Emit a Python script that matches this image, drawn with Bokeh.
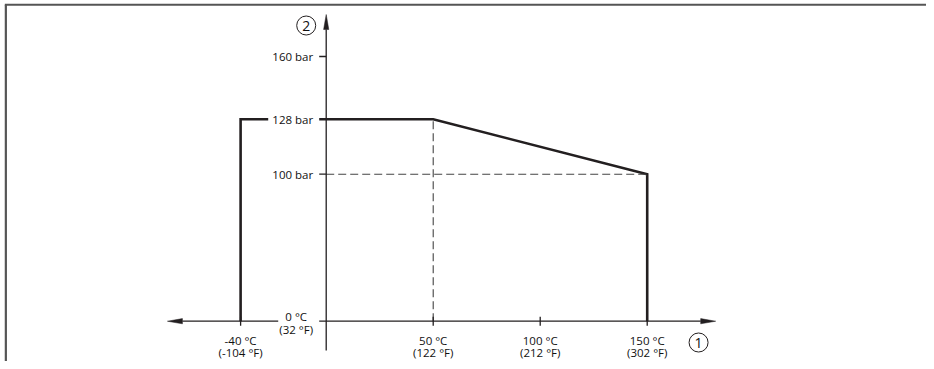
import numpy as np
from bokeh.plotting import figure
from bokeh.models import Range1d
from bokeh.embed import file_html
from bokeh.resources import INLINE
from bokeh.core.properties import value

# ---------------- data ----------------
temps_c = [-40, -40, 50, 150, 150]
pressure_bar = [0, 128, 128, 100, 0]

x_ticks_c = [-40, 50, 100, 150]
x_tick_labels_c = ["-40 °C", "50 °C", "100 °C", "150 °C"]
x_tick_labels_f = ["(-104 °F)", "(122 °F)", "(212 °F)", "(302 °F)"]

y_ticks_bar = [100, 128, 160]
y_tick_labels = ["100 bar", "128 bar", "160 bar"]

origin_labels = ["0 °C", "(32 °F)"]
axis_markers = ["1", "2"]   # circled axis numbers: 1 = temperature, 2 = pressure

# ---------------- layout ----------------
W, H = 926, 361
X_START, X_END = -152.2, 280.51
Y_START, Y_END = 4.53, 188.55
SX = W / (X_END - X_START)      # px per °C
SY = H / (Y_END - Y_START)      # px per bar
BASE = 25.07                    # broken pressure axis: 0 bar is drawn at this level
Y_AXIS_BOTTOM = 10.13
Y_ARROW_TIP = 181.4
X_ARROW_LEFT = -74.2
X_ARROW_RIGHT = 182.0
FRAME_TOP = 186.4
FRAME_LEFT = -149.7
HEAD_LEN, HEAD_HW = 15.0, 2.6   # px

INK = "#231f20"
TXT = "#111111"
FONT = value("Open Sans")
FS = "11.5px"

p = figure(width=W, height=H, x_range=Range1d(X_START, X_END), y_range=Range1d(Y_START, Y_END),
           x_axis_type=None, y_axis_type=None, output_backend="svg", toolbar_location=None,
           min_border=0, outline_line_color=None, background_fill_color="white",
           border_fill_color="white")
p.grid.visible = False

# outer frame (top and left edges)
p.segment(x0=[FRAME_LEFT - 1 / SX], y0=[FRAME_TOP], x1=[X_END], y1=[FRAME_TOP],
          line_color="#555555", line_width=2)
p.segment(x0=[FRAME_LEFT], y0=[FRAME_TOP], x1=[FRAME_LEFT], y1=[Y_START],
          line_color="#555555", line_width=2.2)

# pressure curve (values below the axis break are drawn at the axis)
curve_y = np.maximum(np.array(pressure_bar, dtype=float), BASE)
p.line(temps_c, curve_y, line_width=2.6, line_color=INK, line_join="miter")

# dashed reference lines at the knee and at the end point
knee_t, knee_p = temps_c[2], pressure_bar[2]
end_t, end_p = temps_c[3], pressure_bar[3]
p.line([knee_t, knee_t], [BASE, knee_p], line_dash="8 4", line_color="#444444", line_width=1.1)
p.line([0, end_t], [end_p, end_p], line_dash="8 4", line_color="#444444", line_width=1.1)

# axes
p.segment(x0=[0], y0=[Y_AXIS_BOTTOM], x1=[0], y1=[Y_ARROW_TIP - HEAD_LEN / SY], line_color=INK, line_width=1.3)
p.segment(x0=[X_ARROW_LEFT + HEAD_LEN / SX], y0=[BASE], x1=[X_ARROW_RIGHT - HEAD_LEN / SX], y1=[BASE],
          line_color=INK, line_width=1.3)
heads_x = [
    [0, -HEAD_HW / SX, HEAD_HW / SX],
    [X_ARROW_LEFT, X_ARROW_LEFT + HEAD_LEN / SX, X_ARROW_LEFT + HEAD_LEN / SX],
    [X_ARROW_RIGHT, X_ARROW_RIGHT - HEAD_LEN / SX, X_ARROW_RIGHT - HEAD_LEN / SX],
]
heads_y = [
    [Y_ARROW_TIP, Y_ARROW_TIP - HEAD_LEN / SY, Y_ARROW_TIP - HEAD_LEN / SY],
    [BASE, BASE + HEAD_HW / SY, BASE - HEAD_HW / SY],
    [BASE, BASE + HEAD_HW / SY, BASE - HEAD_HW / SY],
]
p.patches(heads_x, heads_y, fill_color=INK, line_color=INK, line_width=0.5)

# ticks
p.segment(x0=[-7 / SX] * len(y_ticks_bar), y0=y_ticks_bar, x1=[0] * len(y_ticks_bar), y1=y_ticks_bar,
          line_color=INK, line_width=1.3)
p.segment(x0=x_ticks_c, y0=[BASE - 4.5 / SY] * len(x_ticks_c), x1=x_ticks_c, y1=[BASE + 4.5 / SY] * len(x_ticks_c),
          line_color=INK, line_width=1.3)

# white gaps behind labels that sit on lines
p.rect(x=[-32.5 / SX], y=[knee_p], width=51, height=9, width_units="screen", height_units="screen",
       fill_color="white", line_color=None)
p.rect(x=[-27.5 / SX], y=[BASE], width=41, height=7, width_units="screen", height_units="screen",
       fill_color="white", line_color=None)

# tick labels
p.text(x=[0] * len(y_ticks_bar), y=y_ticks_bar, text=y_tick_labels, x_offset=-13, text_align="right",
       text_baseline="middle", text_font=FONT, text_font_size=FS, text_color=TXT)
p.text(x=x_ticks_c, y=[BASE] * len(x_ticks_c), text=x_tick_labels_c, y_offset=19.5, text_align="center",
       text_baseline="middle", text_font=FONT, text_font_size=FS, text_color=TXT)
p.text(x=x_ticks_c, y=[BASE] * len(x_ticks_c), text=x_tick_labels_f, y_offset=31.5, text_align="center",
       text_baseline="middle", text_font=FONT, text_font_size=FS, text_color=TXT)
p.text(x=[0, 0], y=[BASE, BASE], text=origin_labels, x_offset=-30, y_offset=[-5, 8], text_align="center",
       text_baseline="middle", text_font=FONT, text_font_size=FS, text_color=TXT)

# circled axis markers
mark_x = [174.0, -20 / SX]
mark_y = [BASE - 21.3 / SY, 175.8]
p.scatter(x=mark_x, y=mark_y, marker="circle", size=19, fill_color=None, line_color=INK, line_width=1)
p.text(x=mark_x, y=mark_y, text=axis_markers, text_align="center", text_baseline="middle",
       text_font=FONT, text_font_size="14px", text_color=TXT)

open("out.html", "w").write(file_html(p, INLINE))
